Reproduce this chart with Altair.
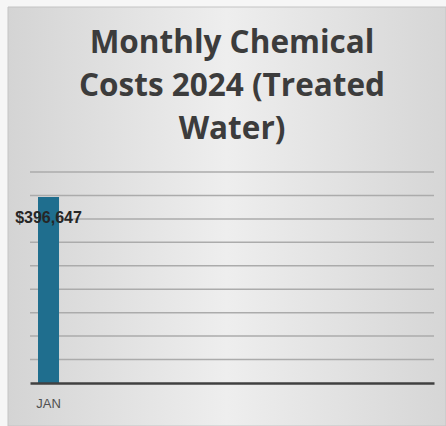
import altair as alt
import pandas as pd

months = ["JAN", "FEB", "MAR", "APR", "MAY", "JUN", "JUL", "AUG", "SEP", "OCT", "NOV", "DEC"]
data_months = ["JAN"]
costs = [396647]
labels = ["$396,647"]
grid_values = [50000, 100000, 150000, 200000, 250000, 300000, 350000, 400000, 450000]

df = pd.DataFrame({"month": data_months, "cost": costs, "label": labels})
grid_df = pd.DataFrame({"v": grid_values})

x_scale = alt.Scale(domain=months, paddingInner=0.37, paddingOuter=0.24)
y_scale = alt.Scale(domain=[0, 450000], nice=False)

bg = alt.Chart(pd.DataFrame({"a": [0]})).mark_rect(
    fill=alt.Gradient(
        gradient="linear",
        x1=0, y1=0, x2=1, y2=0,
        stops=[
            alt.GradientStop(color="#d4d4d4", offset=0),
            alt.GradientStop(color="#eeeeee", offset=0.5),
            alt.GradientStop(color="#d6d6d6", offset=1),
        ],
    ),
    stroke="#c4c4c4",
    strokeWidth=1,
    clip=False,
).encode(
    x=alt.value(-22), x2=alt.value(416), y=alt.value(-165), y2=alt.value(254)
)

grid = alt.Chart(grid_df).mark_rule(color="#ababab", strokeWidth=1.5).encode(
    y=alt.Y("v:Q", scale=y_scale, axis=None),
    x=alt.value(0),
    x2=alt.value(404),
)

bars = alt.Chart(df).mark_bar(color="#1f6e8e").encode(
    x=alt.X(
        "month:N",
        scale=x_scale,
        sort=months,
        title=None,
        axis=alt.Axis(
            labelExpr="datum.value == 'JAN' ? datum.value : ''",
            labelAngle=0,
            labelFontSize=13,
            labelColor="#505050",
            labelFont="Liberation Sans",
            labelPadding=14,
            ticks=False,
            domainColor="#404040",
            domainWidth=2.5,
            grid=False,
            zindex=1,
        ),
    ),
    y=alt.Y("cost:Q", scale=y_scale, axis=None),
)

text = alt.Chart(df).mark_text(
    font="Liberation Sans",
    fontSize=16,
    fontWeight="bold",
    color="#262626",
    dy=21,
    baseline="middle",
).encode(
    x=alt.X("month:N", scale=x_scale, sort=months),
    y=alt.Y("cost:Q", scale=y_scale),
    text="label:N",
)

chart = alt.layer(bg, grid, bars, text).properties(
    width=404,
    height=211,
    background="#f6f6f6",
    padding={"left": 30, "top": 172, "right": 12, "bottom": 43},
    autosize=alt.AutoSizeParams(type="none"),
    title=alt.Title(
        text=["Monthly Chemical", "Costs 2024 (Treated", "Water)"],
        font="Open Sans",
        fontSize=31.5,
        fontWeight="bold",
        color="#3c3c3c",
        lineHeight=43,
        anchor="middle",
        offset=-139,
        zindex=1,
    ),
).configure_view(strokeWidth=0)

chart.save("out.html", embed_options={"renderer": "svg", "actions": False})
